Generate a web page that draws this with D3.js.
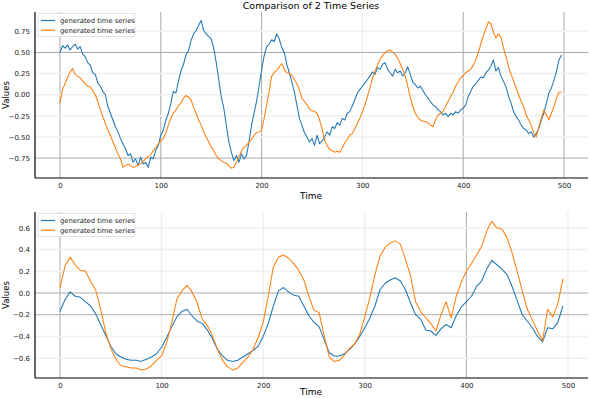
<!DOCTYPE html>
<html>
<head>
<meta charset="utf-8">
<script src="https://cdn.jsdelivr.net/npm/d3@7"></script>
<style>
  body { margin: 0; background: #fff; }
  svg { display: block; font-family: "DejaVu Sans", sans-serif; }
</style>
</head>
<body>
<svg width="590" height="398"></svg>
<script>
// sample times: raw series read every 2.5 steps, smoothed every 5
const timeRaw = d3.range(0, 500, 2.5);
const timeSmooth = d3.range(0, 500, 5);

// top panel: raw series
const rawA = [0.50,0.58,0.55,0.59,0.53,0.57,0.60,0.54,0.57,0.48,
  0.45,0.38,0.35,0.26,0.24,0.14,0.10,0.04,0.00,-0.14,
  -0.22,-0.30,-0.38,-0.44,-0.52,-0.58,-0.64,-0.72,-0.70,-0.80,
  -0.76,-0.84,-0.74,-0.82,-0.80,-0.86,-0.74,-0.76,-0.66,-0.60,
  -0.48,-0.42,-0.30,-0.22,-0.10,0.04,0.02,0.16,0.28,0.36,
  0.47,0.52,0.64,0.72,0.76,0.82,0.88,0.76,0.72,0.69,
  0.66,0.55,0.38,0.18,-0.03,-0.16,-0.36,-0.56,-0.68,-0.78,
  -0.72,-0.80,-0.70,-0.76,-0.72,-0.56,-0.36,-0.22,-0.08,0.10,
  0.29,0.46,0.57,0.60,0.65,0.63,0.72,0.66,0.56,0.50,
  0.36,0.26,0.15,0.03,-0.12,-0.28,-0.36,-0.45,-0.50,-0.56,
  -0.52,-0.60,-0.48,-0.58,-0.55,-0.50,-0.44,-0.48,-0.38,-0.40,
  -0.33,-0.36,-0.28,-0.30,-0.22,-0.20,-0.13,-0.06,0.02,0.06,
  0.10,0.14,0.18,0.22,0.27,0.24,0.32,0.30,0.36,0.38,
  0.30,0.26,0.22,0.30,0.26,0.28,0.22,0.26,0.33,0.24,
  0.15,0.12,0.08,0.10,0.05,0.00,-0.04,-0.08,-0.12,-0.14,
  -0.18,-0.20,-0.24,-0.22,-0.26,-0.22,-0.24,-0.20,-0.22,-0.18,
  -0.16,-0.12,-0.02,0.04,0.10,0.13,0.17,0.21,0.20,0.26,
  0.29,0.34,0.41,0.28,0.32,0.22,0.16,0.09,-0.02,-0.10,
  -0.20,-0.26,-0.30,-0.36,-0.40,-0.42,-0.46,-0.44,-0.50,-0.46,
  -0.40,-0.30,-0.22,-0.10,0.02,0.08,0.17,0.28,0.41,0.47];
const rawB = [-0.10,0.06,0.13,0.20,0.27,0.31,0.24,0.22,0.20,0.16,
  0.13,0.10,0.09,0.05,0.00,-0.08,-0.18,-0.26,-0.34,-0.42,
  -0.48,-0.56,-0.63,-0.70,-0.76,-0.86,-0.84,-0.82,-0.84,-0.86,
  -0.85,-0.83,-0.82,-0.79,-0.76,-0.73,-0.71,-0.66,-0.63,-0.58,
  -0.55,-0.52,-0.45,-0.36,-0.28,-0.22,-0.18,-0.13,-0.10,-0.04,
  -0.01,-0.03,-0.06,-0.15,-0.22,-0.30,-0.36,-0.44,-0.50,-0.56,
  -0.62,-0.66,-0.72,-0.76,-0.78,-0.80,-0.81,-0.84,-0.87,-0.86,
  -0.80,-0.74,-0.67,-0.62,-0.60,-0.56,-0.53,-0.48,-0.45,-0.44,
  -0.42,-0.28,-0.12,0.04,0.22,0.26,0.29,0.33,0.37,0.30,
  0.26,0.25,0.23,0.18,0.13,0.06,-0.04,-0.08,-0.12,-0.17,
  -0.19,-0.20,-0.22,-0.30,-0.40,-0.54,-0.60,-0.65,-0.66,-0.68,
  -0.67,-0.68,-0.63,-0.57,-0.53,-0.48,-0.46,-0.40,-0.34,-0.28,
  -0.20,-0.12,-0.02,0.08,0.20,0.28,0.35,0.42,0.46,0.50,
  0.52,0.53,0.50,0.48,0.43,0.37,0.30,0.22,0.10,-0.03,
  -0.14,-0.22,-0.27,-0.30,-0.31,-0.32,-0.33,-0.36,-0.38,-0.30,
  -0.24,-0.22,-0.20,-0.14,-0.08,-0.02,0.03,0.10,0.15,0.20,
  0.23,0.26,0.28,0.30,0.35,0.41,0.50,0.60,0.70,0.78,
  0.86,0.84,0.74,0.67,0.72,0.68,0.55,0.45,0.33,0.24,
  0.16,0.08,0.00,-0.08,-0.14,-0.24,-0.30,-0.36,-0.45,-0.50,
  -0.38,-0.28,-0.18,-0.24,-0.30,-0.22,-0.14,-0.04,0.03,0.03];

// bottom panel: smoothed series
const smoothA = [-0.17,-0.06,0.01,-0.03,-0.04,-0.08,-0.12,-0.19,-0.29,-0.39,
  -0.49,-0.56,-0.59,-0.61,-0.62,-0.62,-0.63,-0.61,-0.59,-0.56,
  -0.50,-0.41,-0.31,-0.22,-0.17,-0.15,-0.21,-0.26,-0.28,-0.34,
  -0.42,-0.52,-0.58,-0.62,-0.63,-0.62,-0.59,-0.56,-0.53,-0.49,
  -0.40,-0.28,-0.12,0.02,0.05,0.01,-0.02,-0.03,-0.12,-0.21,
  -0.27,-0.31,-0.43,-0.55,-0.58,-0.58,-0.56,-0.52,-0.47,-0.40,
  -0.32,-0.23,-0.12,0.03,0.09,0.12,0.14,0.11,0.03,-0.09,
  -0.20,-0.24,-0.34,-0.35,-0.39,-0.33,-0.29,-0.32,-0.21,-0.13,
  -0.08,-0.03,0.06,0.11,0.22,0.30,0.26,0.22,0.17,0.06,
  -0.07,-0.20,-0.26,-0.32,-0.40,-0.45,-0.32,-0.33,-0.27,-0.12];
const smoothB = [0.05,0.25,0.33,0.26,0.21,0.20,0.11,0.03,-0.15,-0.36,
  -0.51,-0.61,-0.67,-0.68,-0.69,-0.69,-0.71,-0.70,-0.67,-0.62,
  -0.58,-0.46,-0.27,-0.06,0.02,0.07,0.01,-0.09,-0.24,-0.30,
  -0.39,-0.52,-0.62,-0.68,-0.71,-0.69,-0.64,-0.59,-0.52,-0.41,
  -0.27,-0.03,0.24,0.33,0.35,0.32,0.27,0.21,0.12,-0.03,
  -0.16,-0.18,-0.39,-0.59,-0.63,-0.62,-0.57,-0.51,-0.47,-0.38,
  -0.22,-0.04,0.17,0.34,0.42,0.46,0.48,0.45,0.31,0.16,
  -0.08,-0.17,-0.23,-0.28,-0.35,-0.20,-0.08,-0.23,-0.03,0.10,
  0.20,0.27,0.35,0.43,0.57,0.66,0.60,0.59,0.51,0.37,
  0.20,0.02,-0.15,-0.25,-0.35,-0.44,-0.15,-0.22,-0.10,0.13];

const xTicks = [0, 100, 200, 300, 400, 500];
const yTicksTop = [-0.75, -0.5, -0.25, 0, 0.25, 0.5, 0.75];
const yTicksBottom = [-0.6, -0.4, -0.2, 0, 0.2, 0.4, 0.6];
const seriesName = "generated time series";
const colors = ["#1f77b4", "#ff7f0e"];

const svg = d3.select("svg");

svg.append("text")
  .attr("x", 311).attr("y", 8.5)
  .attr("text-anchor", "middle")
  .attr("font-size", 9.5)
  .text("Comparison of 2 Time Series");

const panels = [
  { top: 12, bottom: 178, xDomain: [-24.8, 523.8], yDomain: [-0.986, 0.979],
    yTicks: yTicksTop, fmt: d3.format(".2f"), time: timeRaw, series: [rawA, rawB],
    darkX: [0, 100, 200, 400, 500], darkY: [0.5, -0.75] },
  { top: 212, bottom: 378, xDomain: [-24.6, 519.7], yDomain: [-0.783, 0.746],
    yTicks: yTicksBottom, fmt: d3.format(".1f"), time: timeSmooth, series: [smoothA, smoothB],
    darkX: [0, 400], darkY: [0, -0.2] }
];

const left = 35, right = 588;

panels.forEach((p, pi) => {
  const x = d3.scaleLinear().domain(p.xDomain).range([left, right]);
  const y = d3.scaleLinear().domain(p.yDomain).range([p.bottom, p.top]);
  const g = svg.append("g");

  // grid
  g.selectAll(".gx").data(xTicks).enter().append("line")
    .attr("x1", d => x(d)).attr("x2", d => x(d))
    .attr("y1", p.top).attr("y2", p.bottom)
    .attr("stroke", d => p.darkX.includes(d) ? "#aaaaaa" : "#f0f0f0")
    .attr("stroke-width", d => p.darkX.includes(d) ? 1 : 1.5);
  g.selectAll(".gy").data(p.yTicks).enter().append("line")
    .attr("x1", left).attr("x2", right)
    .attr("y1", d => y(d)).attr("y2", d => y(d))
    .attr("stroke", d => p.darkY.includes(d) ? "#aaaaaa" : "#f0f0f0")
    .attr("stroke-width", d => p.darkY.includes(d) ? 1 : 1.5);

  // lines
  const line = d3.line().x((d, i) => x(p.time[i])).y(d => y(d));
  p.series.forEach((s, k) => {
    g.append("path").datum(s)
      .attr("fill", "none")
      .attr("stroke", colors[k])
      .attr("stroke-width", 1.05)
      .attr("stroke-linejoin", "round")
      .attr("d", line);
  });

  // axes
  const xAxis = g.append("g").attr("transform", `translate(0,${p.bottom})`)
    .call(d3.axisBottom(x).tickValues(xTicks).tickSize(0).tickPadding(5));
  const yAxis = g.append("g").attr("transform", `translate(${left},0)`)
    .call(d3.axisLeft(y).tickValues(p.yTicks).tickFormat(d => p.fmt(d).replace("-", "\u2212")).tickSize(0).tickPadding(5));
  [xAxis, yAxis].forEach(a => {
    a.select(".domain").attr("stroke", "#000").attr("stroke-width", 1.2);
    a.selectAll("text").attr("font-size", 7).attr("fill", "#222").attr("font-family", "DejaVu Sans");
  });
  xAxis.select(".domain").attr("d", `M${left},0H${right}`);
  yAxis.select(".domain").attr("d", `M0,${p.top}V${p.bottom}`);

  svg.append("text")
    .attr("x", 311).attr("y", pi === 0 ? p.bottom + 21 : 395)
    .attr("text-anchor", "middle").attr("font-size", 9)
    .text("Time");
  svg.append("text")
    .attr("transform", `translate(9,${(p.top + p.bottom) / 2}) rotate(-90)`)
    .attr("text-anchor", "middle").attr("font-size", 8.5)
    .text("Values");

  // legend
  const lg = g.append("g").attr("transform", `translate(38,${p.top + 1.5})`);
  lg.append("rect").attr("width", 97).attr("height", 23)
    .attr("fill", "#fff").attr("stroke", "#dddddd").attr("stroke-width", 0.8);
  colors.forEach((c, k) => {
    lg.append("line").attr("x1", 3).attr("x2", 17)
      .attr("y1", 7 + k * 9.7).attr("y2", 7 + k * 9.7)
      .attr("stroke", c).attr("stroke-width", 1.2);
    lg.append("text").attr("x", 22).attr("y", 9.5 + k * 9.7)
      .attr("font-size", 6.8).attr("fill", "#222")
      .text(seriesName);
  });
});
</script>
</body>
</html>
